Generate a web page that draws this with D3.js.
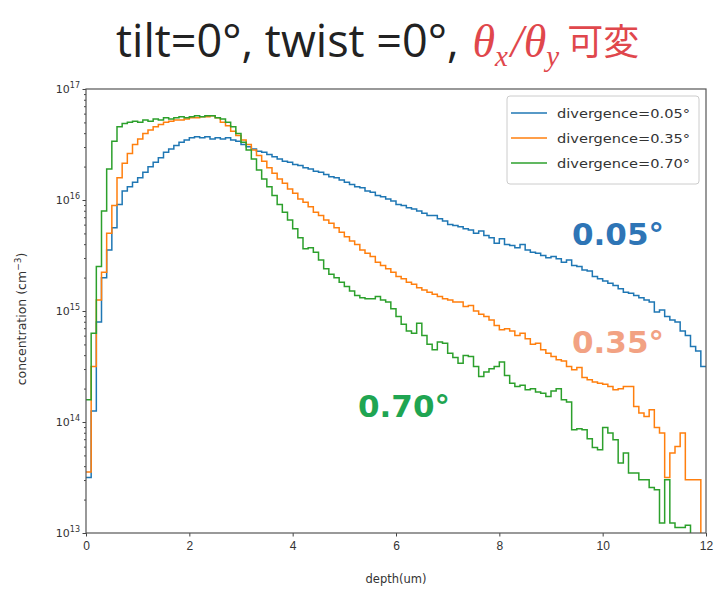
<!DOCTYPE html>
<html>
<head>
<meta charset="utf-8">
<script src="https://cdn.jsdelivr.net/npm/d3@7"></script>
<style>
  body { margin: 0; background: #fff; }
  svg { display: block; }
</style>
</head>
<body>
<div id="root"></div>
<script>
// depth bins, 0.1 um wide, 0 .. 12 um
const BIN_WIDTH = 0.1;
const xTicks = [0, 2, 4, 6, 8, 10, 12];
const yTicks = [1e13, 1e14, 1e15, 1e16, 1e17];
const seriesNames = ["divergence=0.05°", "divergence=0.35°", "divergence=0.70°"];
const seriesColors = ["#1f77b4", "#ff7f0e", "#2ca02c"];
const labelTexts = ["0.05°", "0.35°", "0.70°"];

// log10 of concentration (cm^-3), one value per bin
const logDiv005 = [
  13.50, 14.10, 14.90, 15.30, 15.55, 15.75, 15.96, 16.08, 16.12, 16.16,
  16.20, 16.25, 16.30, 16.34, 16.38, 16.43, 16.46, 16.49, 16.52, 16.54,
  16.56, 16.57, 16.56, 16.57, 16.55, 16.56, 16.55, 16.56, 16.54, 16.53,
  16.50, 16.48, 16.46, 16.44, 16.43, 16.41, 16.39, 16.37, 16.35, 16.34,
  16.32, 16.31, 16.29, 16.28, 16.26, 16.25, 16.23, 16.21, 16.20, 16.18,
  16.16, 16.14, 16.12, 16.11, 16.08, 16.07, 16.04, 16.03, 16.01, 15.99,
  15.96, 15.95, 15.93, 15.92, 15.90, 15.88, 15.86, 15.86, 15.83, 15.81,
  15.78, 15.77, 15.76, 15.74, 15.73, 15.70, 15.72, 15.68, 15.66, 15.61,
  15.65, 15.60, 15.59, 15.57, 15.60, 15.55, 15.53, 15.52, 15.50, 15.48,
  15.49, 15.47, 15.44, 15.46, 15.41, 15.40, 15.37, 15.36, 15.31, 15.29,
  15.27, 15.25, 15.23, 15.20, 15.17, 15.16, 15.14, 15.12, 15.10, 15.08,
  14.99, 15.01, 14.95, 14.92, 14.90, 14.82, 14.78, 14.68, 14.64, 14.50
];
const logDiv035 = [
  13.55, 14.50, 15.10, 15.35, 15.70, 15.95, 16.20, 16.33, 16.42, 16.50,
  16.55, 16.60, 16.63, 16.66, 16.68, 16.70, 16.71, 16.72, 16.72, 16.73,
  16.74, 16.74, 16.75, 16.75, 16.76, 16.74, 16.70, 16.67, 16.62, 16.58,
  16.54, 16.50, 16.45, 16.40, 16.35, 16.29, 16.24, 16.19, 16.15, 16.10,
  16.06, 16.01, 15.98, 15.94, 15.89, 15.86, 15.82, 15.79, 15.75, 15.71,
  15.67, 15.63, 15.60, 15.55, 15.52, 15.49, 15.44, 15.41, 15.38, 15.35,
  15.31, 15.29, 15.26, 15.24, 15.21, 15.19, 15.17, 15.15, 15.13, 15.11,
  15.10, 15.08, 15.08, 15.04, 15.05, 15.00, 14.97, 14.95, 14.92, 14.87,
  14.83, 14.84, 14.82, 14.78, 14.80, 14.75, 14.70, 14.71, 14.65, 14.62,
  14.59, 14.56, 14.55, 14.50, 14.47, 14.49, 14.40, 14.38, 14.36, 14.35,
  14.34, 14.32, 14.29, 14.30, 14.32, 14.32, 14.14, 14.08, 14.05, 14.11,
  13.95, 13.90, 13.50, 13.72, 13.78, 13.90, 13.48, 13.48, 13.48, 12.50
];
const logDiv070 = [
  14.20, 14.80, 15.40, 15.90, 16.28, 16.53, 16.66, 16.69, 16.70, 16.71,
  16.70, 16.72, 16.71, 16.73, 16.72, 16.74, 16.73, 16.74, 16.75, 16.74,
  16.75, 16.76, 16.75, 16.76, 16.76, 16.74, 16.73, 16.70, 16.66, 16.60,
  16.52, 16.45, 16.37, 16.27, 16.19, 16.12, 16.04, 15.96, 15.89, 15.82,
  15.74, 15.66, 15.56, 15.57, 15.53, 15.46, 15.38, 15.33, 15.30, 15.26,
  15.22, 15.18, 15.14, 15.12, 15.11, 15.11, 15.13, 15.10, 15.08, 15.02,
  14.95, 14.88, 14.82, 14.80, 14.89, 14.78, 14.70, 14.65, 14.72, 14.71,
  14.62, 14.58, 14.53, 14.60, 14.59, 14.50, 14.41, 14.45, 14.48, 14.50,
  14.54, 14.42, 14.35, 14.32, 14.33, 14.29, 14.30, 14.27, 14.26, 14.23,
  14.28, 14.30, 14.20, 14.18, 13.93, 13.94, 13.93, 13.85, 13.77, 13.75,
  13.95, 13.90, 13.84, 13.63, 13.72, 13.54, 13.54, 13.48, 13.48, 13.41,
  13.39, 13.09, 13.48, 13.09, 13.05, 13.05, 13.07, 12.80, 12.80, 12.80
];
const allSeries = [logDiv005, logDiv035, logDiv070];

const width = 714, height = 592;
const margin = { top: 89, right: 8, bottom: 59, left: 86 };

const svg = d3.select("#root").append("svg")
  .attr("width", width)
  .attr("height", height)
  .style("font-family", "'DejaVu Sans', sans-serif");

const x = d3.scaleLinear().domain([0, 12]).range([margin.left, width - margin.right]);
const y = d3.scaleLog().domain([1e13, 1e17]).range([height - margin.bottom, margin.top]);

// title
const RED = "#e0474c";
const title = svg.append("text")
  .attr("x", 116)
  .attr("y", 57)
  .style("font-family", "'Open Sans', sans-serif")
  .style("font-size", "45px")
  .attr("fill", "#222");
title.append("tspan").text("tilt=0°, twist =0°, ");
const serif = "'Liberation Serif', serif";
title.append("tspan").attr("fill", RED).style("font-family", serif)
  .style("font-style", "italic").style("font-size", "46px").attr("dx", 2).text("θ");
title.append("tspan").attr("fill", RED).style("font-family", serif)
  .style("font-style", "italic").style("font-size", "29px").attr("dy", 9).text("x");
title.append("tspan").attr("fill", RED).style("font-family", serif)
  .style("font-style", "italic").style("font-size", "46px").attr("dy", -9).attr("dx", 3).text("/θ");
title.append("tspan").attr("fill", RED).style("font-family", serif)
  .style("font-style", "italic").style("font-size", "29px").attr("dy", 9).text("y");
title.append("tspan").attr("fill", RED).style("font-family", "'Noto Sans CJK JP', sans-serif")
  .style("font-size", "36px").attr("dy", -11).attr("dx", 8).text("可変");

// clip for the curves
svg.append("clipPath").attr("id", "plot-clip")
  .append("rect")
  .attr("x", margin.left).attr("y", margin.top)
  .attr("width", width - margin.left - margin.right)
  .attr("height", height - margin.top - margin.bottom);

const line = d3.line()
  .x(d => x(d.depth))
  .y(d => y(d.value))
  .curve(d3.curveStepAfter);

allSeries.forEach(function (vals, k) {
  const pts = vals.map((v, i) => ({ depth: i * BIN_WIDTH, value: Math.pow(10, v) }));
  pts.push({ depth: vals.length * BIN_WIDTH, value: Math.pow(10, vals[vals.length - 1]) });
  svg.append("path")
    .datum(pts)
    .attr("clip-path", "url(#plot-clip)")
    .attr("fill", "none")
    .attr("stroke", seriesColors[k])
    .attr("stroke-width", 1.5)
    .attr("d", line);
});

// axes
const xAxis = svg.append("g")
  .attr("transform", `translate(0,${height - margin.bottom})`)
  .call(d3.axisBottom(x).tickValues(xTicks).tickFormat(d3.format("d")).tickSize(3.5).tickPadding(5));

const minorY = [];
[13, 14, 15, 16].forEach(e => {
  for (let m = 2; m <= 9; m++) minorY.push(m * Math.pow(10, e));
});
svg.append("g")
  .attr("transform", `translate(${margin.left},0)`)
  .call(d3.axisLeft(y).tickValues(yTicks).tickFormat("").tickSize(3.5));
svg.append("g")
  .attr("transform", `translate(${margin.left},0)`)
  .call(d3.axisLeft(y).tickValues(minorY).tickFormat("").tickSize(2));

// y tick labels as 10^n
yTicks.forEach(t => {
  const lbl = svg.append("text")
    .attr("x", margin.left - 6)
    .attr("y", y(t) + 4)
    .attr("text-anchor", "end")
    .style("font-size", "11px")
    .attr("fill", "#333");
  lbl.append("tspan").text("10");
  lbl.append("tspan").attr("dy", -5).style("font-size", "8px").text(Math.round(Math.log10(t)));
});

svg.selectAll(".domain").remove();
svg.selectAll(".tick line").attr("stroke", "#444");
xAxis.selectAll("text").style("font-size", "12px").attr("fill", "#333");

// frame
svg.append("rect")
  .attr("x", margin.left).attr("y", margin.top)
  .attr("width", width - margin.left - margin.right)
  .attr("height", height - margin.top - margin.bottom)
  .attr("fill", "none")
  .attr("stroke", "#555")
  .attr("stroke-width", 1.2);

// axis labels
svg.append("text")
  .attr("x", x(6))
  .attr("y", 583)
  .attr("text-anchor", "middle")
  .style("font-size", "11.5px")
  .attr("fill", "#333")
  .text("depth(um)");

const yl = svg.append("text")
  .attr("transform", `translate(26,${(margin.top + height - margin.bottom) / 2 + 8}) rotate(-90)`)
  .attr("text-anchor", "middle")
  .style("font-size", "12.5px")
  .attr("fill", "#333");
yl.append("tspan").text("concentration (cm");
yl.append("tspan").attr("dy", -5).style("font-size", "9px").text("−3");
yl.append("tspan").attr("dy", 5).text(")");

// legend
const legend = svg.append("g").attr("transform", "translate(507,96)");
legend.append("rect")
  .attr("width", 192).attr("height", 88)
  .attr("rx", 3)
  .attr("fill", "#fff")
  .attr("stroke", "#ccc");
seriesNames.forEach(function (name, k) {
  const ly = 17 + k * 25;
  legend.append("line")
    .attr("x1", 4).attr("x2", 40)
    .attr("y1", ly).attr("y2", ly)
    .attr("stroke", seriesColors[k])
    .attr("stroke-width", 1.5);
  legend.append("text")
    .attr("x", 50).attr("y", ly + 4.5)
    .style("font-size", "13px")
    .attr("textLength", 133)
    .attr("lengthAdjust", "spacingAndGlyphs")
    .attr("fill", "#333")
    .text(name);
});

// big annotations
const labelColors = ["#2e75b6", "#f2a283", "#1fa552"];
const labelX = [572, 572, 358];
const labelY = [245, 353, 417];
labelTexts.forEach(function (t, k) {
  svg.append("text")
    .attr("x", labelX[k])
    .attr("y", labelY[k])
    .style("font-size", "31px")
    .style("font-weight", "bold")
    .attr("fill", labelColors[k])
    .text(t);
});
</script>
</body>
</html>
